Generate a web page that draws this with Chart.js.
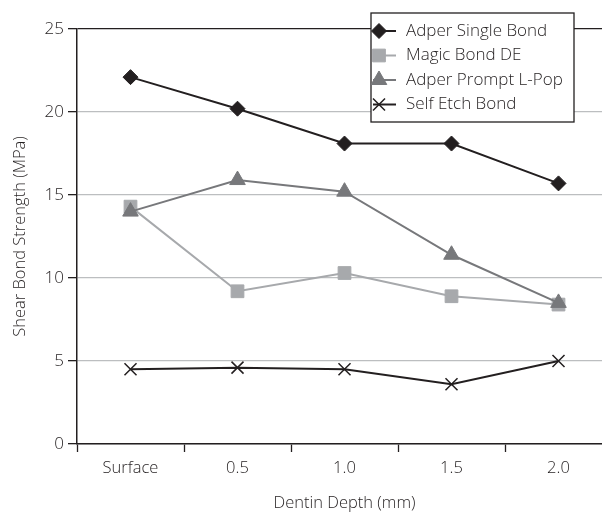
<!DOCTYPE html>
<html>
<head>
<meta charset="utf-8">
<script src="https://cdn.jsdelivr.net/npm/chart.js@4.4.1/dist/chart.umd.min.js"></script>
<style>
  html, body { margin: 0; padding: 0; background: #fff; overflow: hidden; width: 602px; height: 514px; }
  #wrap { position: absolute; left: 0; top: 0; width: 612px; height: 514px; }
</style>
</head>
<body>
<div id="wrap"><canvas id="bondChart"></canvas></div>
<script>
// Data
var depths = ['Surface', '0.5', '1.0', '1.5', '2.0'];
var adperSingleBond = [22.1, 20.2, 18.1, 18.1, 15.7];
var magicBondDE = [14.3, 9.2, 10.3, 8.9, 8.4];
var adperPromptLPop = [14.0, 15.9, 15.2, 11.4, 8.5];
var selfEtchBond = [4.5, 4.6, 4.5, 3.6, 5.0];
var yTicks = [0, 5, 10, 15, 20, 25];

var FONT = '"Open Sans", "DejaVu Sans", sans-serif';
var INK = '#231f20';

// Legend drawn as a boxed list in the top right, like the original
var boxLegend = {
    id: 'boxLegend',
    afterDraw: function(chart) {
        var ctx = chart.ctx;
        var x = 371, y = 13, w = 203, h = 109;
        ctx.save();
        ctx.fillStyle = '#fff';
        ctx.fillRect(x, y, w, h);
        ctx.strokeStyle = INK;
        ctx.lineWidth = 1.3;
        ctx.strokeRect(x, y, w, h);
        chart.data.datasets.forEach(function(ds, i) {
            var cy = y + 18 + i * 24.5;
            ctx.beginPath();
            ctx.strokeStyle = ds.borderColor;
            ctx.lineWidth = ds.borderWidth;
            ctx.moveTo(x + 2, cy);
            ctx.lineTo(x + 25, cy);
            ctx.stroke();
            ctx.fillStyle = ds.pointBackgroundColor;
            ctx.strokeStyle = ds.pointBorderColor;
            ctx.lineWidth = ds.pointBorderWidth;
            Chart.helpers.drawPoint(ctx, {
                pointStyle: ds.pointStyle,
                radius: ds.pointRadius,
                rotation: 0,
                borderWidth: ds.pointBorderWidth
            }, x + 8, cy);
            ctx.fillStyle = INK;
            ctx.font = '300 17px ' + FONT;
            ctx.textBaseline = 'middle';
            ctx.fillText(ds.label, x + 35, cy);
        });
        ctx.restore();
    }
};

document.addEventListener('DOMContentLoaded', function() {
    var ctx = document.getElementById('bondChart').getContext('2d');

    var bondChart = new Chart(ctx, {
        type: 'line',
        data: {
            labels: depths,
            datasets: [{
                label: 'Adper Single Bond',
                data: adperSingleBond,
                borderColor: INK,
                borderWidth: 2,
                pointStyle: 'rectRot',
                pointRadius: 7.5,
                pointBackgroundColor: INK,
                pointBorderColor: INK,
                pointBorderWidth: 1,
                order: 0
            }, {
                label: 'Magic Bond DE',
                data: magicBondDE,
                borderColor: '#a7a9ac',
                borderWidth: 2,
                pointStyle: 'rect',
                pointRadius: 9,
                pointBackgroundColor: '#a7a9ac',
                pointBorderColor: '#a7a9ac',
                pointBorderWidth: 1,
                order: 2
            }, {
                label: 'Adper Prompt L-Pop',
                data: adperPromptLPop,
                borderColor: '#77787b',
                borderWidth: 2,
                pointStyle: 'triangle',
                pointRadius: 9,
                pointBackgroundColor: '#77787b',
                pointBorderColor: '#77787b',
                pointBorderWidth: 1,
                order: 1
            }, {
                label: 'Self Etch Bond',
                data: selfEtchBond,
                borderColor: INK,
                borderWidth: 2,
                pointStyle: 'crossRot',
                pointRadius: 8.5,
                pointBackgroundColor: INK,
                pointBorderColor: INK,
                pointBorderWidth: 1.5,
                order: 3
            }]
        },
        options: {
            responsive: true,
            maintainAspectRatio: false,
            animation: false,
            devicePixelRatio: 1,
            layout: { autoPadding: false, padding: { top: 29, right: 0, bottom: 0, left: 0 } },
            elements: { line: { tension: 0 } },
            plugins: {
                legend: { display: false },
                tooltip: { enabled: false }
            },
            scales: {
                x: {
                    offset: true,
                    grid: {
                        offset: true,
                        drawOnChartArea: false,
                        tickLength: 8,
                        tickColor: INK,
                        tickWidth: 1.3
                    },
                    border: { color: INK, width: 1.5 },
                    ticks: {
                        color: INK,
                        padding: 6,
                        font: { family: FONT, size: 16.5, weight: '300' },
                        maxRotation: 0
                    },
                    title: {
                        display: true,
                        text: 'Dentin Depth (mm)',
                        color: INK,
                        font: { family: FONT, size: 16.5, weight: '300' },
                        padding: { top: 1, bottom: 1 }
                    },
                    afterFit: function(scale) {
                        scale.height = 70;
                        scale.paddingLeft = 0;
                        scale.paddingRight = 0;
                    }
                },
                y: {
                    min: 0,
                    max: 25,
                    afterBuildTicks: function(scale) {
                        scale.ticks = yTicks.map(function(v) { return { value: v }; });
                    },
                    grid: {
                        color: function(c) {
                            return c.tick && c.tick.value === 25 ? INK : '#bcbec0';
                        },
                        lineWidth: 1.3,
                        tickLength: 9,
                        tickColor: INK,
                        tickWidth: 1.3
                    },
                    border: { color: INK, width: 1.5 },
                    ticks: {
                        color: INK,
                        padding: 4,
                        font: { family: FONT, size: 17, weight: '300' }
                    },
                    title: {
                        display: true,
                        text: 'Shear Bond Strength (MPa)',
                        color: INK,
                        font: { family: FONT, size: 16.5, weight: '300' },
                        padding: { top: 10, bottom: 0 }
                    },
                    afterFit: function(scale) {
                        scale.width = 77;
                        scale.paddingTop = 0;
                        scale.paddingBottom = 0;
                    }
                }
            }
        },
        plugins: [boxLegend]
    });
});
</script>
</body>
</html>
